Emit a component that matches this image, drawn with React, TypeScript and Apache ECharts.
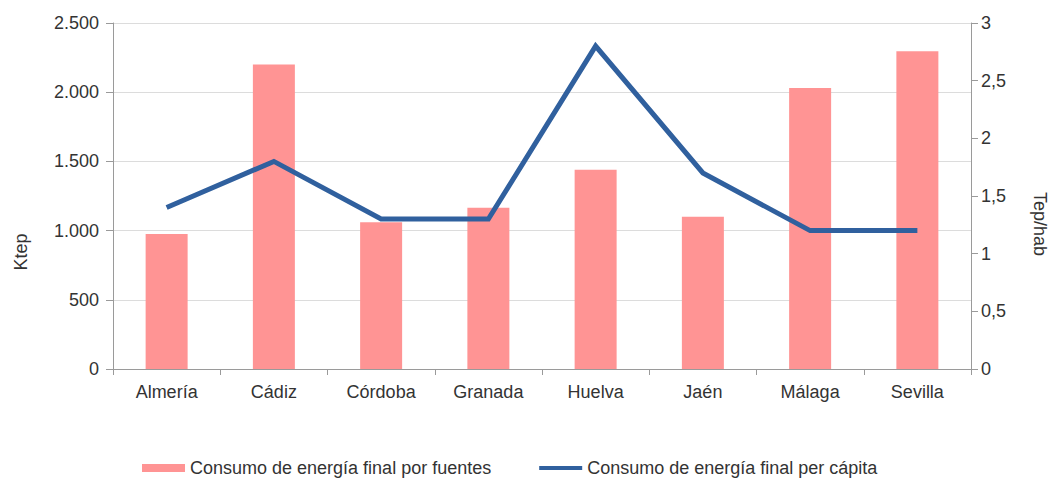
import React, { useEffect, useRef } from "react";
import * as echarts from "echarts";

const categories = ["Almería", "Cádiz", "Córdoba", "Granada", "Huelva", "Jaén", "Málaga", "Sevilla"];
const consumoFuentes = [975, 2200, 1060, 1165, 1440, 1100, 2030, 2295];
const consumoPerCapita = [1.4, 1.8, 1.3, 1.3, 2.8, 1.7, 1.2, 1.2];
const leftTicks = { min: 0, max: 2500, interval: 500 };
const rightTicks = { min: 0, max: 3, interval: 0.5 };
const seriesNames = ["Consumo de energía final por fuentes", "Consumo de energía final per cápita"];
const axisNames = ["Ktep", "Tep/hab"];

const FONT = '"Liberation Sans", Arial, sans-serif';
const TEXT = "#333333";
const AXIS = "#9a9a9a";
const BAR = "#ff9494";
const LINE = "#30609e";

function fmtThousands(v: number): string {
  return String(v).replace(/\B(?=(\d{3})+(?!\d))/g, ".");
}
function fmtDecimal(v: number): string {
  return String(v).replace(".", ",");
}

export default function App() {
  const ref = useRef<HTMLDivElement>(null);
  useEffect(() => {
    if (!ref.current) return;
    const chart = echarts.init(ref.current, undefined, { renderer: "svg" });
    chart.setOption({
      animation: false,
      backgroundColor: "#ffffff",
      textStyle: { fontFamily: FONT, color: TEXT },
      grid: { left: 113, right: 85, top: 23, bottom: 111, containLabel: false },
      legend: {
        left: 137,
        top: 454,
        itemWidth: 43,
        itemHeight: 8,
        itemGap: 48,
        textStyle: { fontFamily: FONT, fontSize: 18, color: TEXT },
        data: [
          { name: seriesNames[0], icon: "rect" },
          { name: seriesNames[1], icon: "path://M0,0 H43 V4 H0 Z" },
        ],
      },
      xAxis: {
        type: "category",
        data: categories,
        boundaryGap: true,
        axisLine: { show: true, lineStyle: { color: AXIS, width: 1 } },
        axisTick: { show: true, length: 6, alignWithLabel: false, lineStyle: { color: AXIS } },
        axisLabel: { fontSize: 18, color: TEXT, fontFamily: FONT, margin: 14 },
        splitLine: { show: false },
      },
      yAxis: [
        {
          type: "value",
          min: leftTicks.min,
          max: leftTicks.max,
          interval: leftTicks.interval,
          position: "left",
          axisLine: { show: true, lineStyle: { color: AXIS, width: 1 } },
          axisTick: { show: true, length: 7, lineStyle: { color: AXIS } },
          axisLabel: { fontSize: 18, color: TEXT, fontFamily: FONT, margin: 14, formatter: fmtThousands },
          splitLine: { show: true, lineStyle: { color: "#dcdcdc", width: 1 } },
        },
        {
          type: "value",
          min: rightTicks.min,
          max: rightTicks.max,
          interval: rightTicks.interval,
          position: "right",
          axisLine: { show: true, lineStyle: { color: AXIS, width: 1 } },
          axisTick: { show: true, length: 7, lineStyle: { color: AXIS } },
          axisLabel: { fontSize: 18, color: TEXT, fontFamily: FONT, margin: 10, formatter: fmtDecimal },
          splitLine: { show: false },
        },
      ],
      series: [
        {
          name: seriesNames[0],
          type: "bar",
          yAxisIndex: 0,
          data: consumoFuentes,
          barWidth: 42,
          itemStyle: { color: BAR },
        },
        {
          name: seriesNames[1],
          type: "line",
          yAxisIndex: 1,
          data: consumoPerCapita,
          symbol: "none",
          lineStyle: { color: LINE, width: 5, cap: "butt", join: "miter" },
          itemStyle: { color: LINE },
        },
      ],
      graphic: [
        {
          type: "text",
          x: 21,
          y: 252,
          rotation: Math.PI / 2,
          style: { text: axisNames[0], fontSize: 18, fontFamily: FONT, fill: TEXT, align: "center", verticalAlign: "middle" },
        },
        {
          type: "text",
          x: 1040,
          y: 224,
          rotation: -Math.PI / 2,
          style: { text: axisNames[1], fontSize: 18, fontFamily: FONT, fill: TEXT, align: "center", verticalAlign: "middle" },
        },
      ],
    });
    return () => chart.dispose();
  }, []);
  return <div ref={ref} style={{ position: "fixed", left: 0, top: 0, width: 1056, height: 480 }} />;
}
